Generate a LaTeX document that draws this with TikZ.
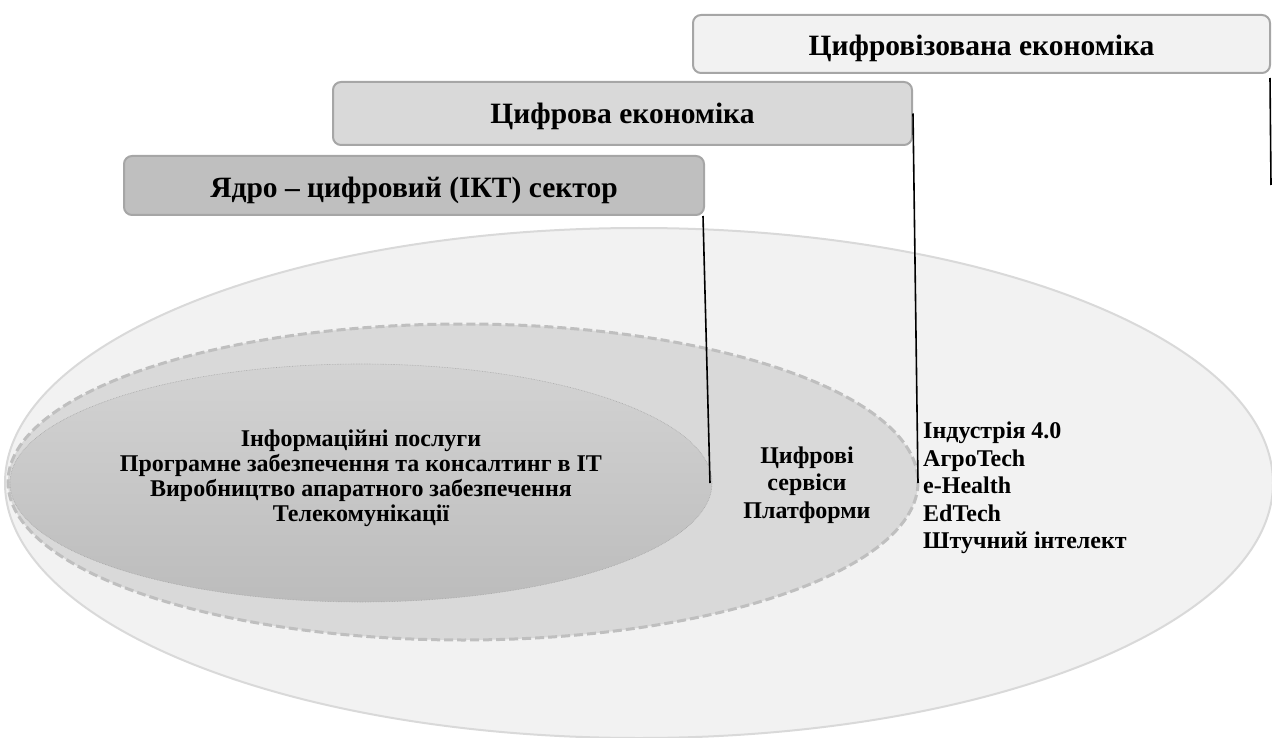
\documentclass[tikz,border=0pt]{standalone}
\usepackage{fontspec}
\setmainfont{Liberation Serif}
\definecolor{outerfill}{HTML}{F2F2F2}
\definecolor{outerline}{HTML}{D9D9D9}
\definecolor{midfill}{HTML}{D9D9D9}
\definecolor{midline}{HTML}{BFBFBF}
\definecolor{innertop}{HTML}{D3D3D3}
\definecolor{innerbot}{HTML}{BCBCBC}
\definecolor{innerline}{HTML}{A6A6A6}
\definecolor{boxline}{HTML}{A6A6A6}
\definecolor{boxa}{HTML}{F2F2F2}
\definecolor{boxb}{HTML}{D9D9D9}
\definecolor{boxc}{HTML}{BFBFBF}
\begin{document}
\begin{tikzpicture}[x=1pt,y=-1pt,
  levelbox/.style={draw=boxline, line width=2pt, rounded corners=8pt, inner sep=0pt,
    text height=19.5pt, text depth=0pt,
    font=\bfseries\fontsize{29.5}{32}\selectfont},
  bodytext/.style={font=\bfseries\fontsize{24}{25}\selectfont, inner sep=0pt},
  listtext/.style={font=\bfseries\fontsize{24}{27.5}\selectfont, inner sep=0pt},
  connector/.style={draw=black, line width=1.6pt}]
\useasboundingbox (0,0) rectangle (1272,738);
% ellipses
\path[fill=outerfill, draw=outerline, line width=2pt] (639,483) ellipse [x radius=634, y radius=255];
\path[fill=midfill, draw=midline, line width=3pt, dash pattern=on 9pt off 4pt] (463,482) ellipse [x radius=455, y radius=158];
\path[top color=innertop, bottom color=innerbot, draw=innerline, line width=0.6pt, densely dotted] (361,483) ellipse [x radius=351, y radius=119];
% boxes
\node[levelbox, fill=boxa, minimum width=577pt, minimum height=58pt] (b1) at (981.5,44) {\raisebox{-2.2pt}{Цифровізована економіка}};
\node[levelbox, fill=boxb, minimum width=579pt, minimum height=63pt] (b2) at (622.5,113.5) {\raisebox{-0.7pt}{Цифрова економіка}};
\node[levelbox, fill=boxc, minimum width=580pt, minimum height=59pt] (b3) at (414,185.5) {\raisebox{-2.7pt}{Ядро – цифровий (ІКТ) сектор}};
% texts
\node[bodytext, align=center] (core) at (361,478) {Інформаційні послуги\\Програмне забезпечення та консалтинг в IT\\Виробництво апаратного забезпечення\\Телекомунікації};
\node[listtext, align=center] (mid) at (807,485) {Цифрові\\сервіси\\Платформи};
\node[listtext, align=left, anchor=west] (outer) at (923,488) {Індустрія 4.0\\АгроTech\\e-Health\\EdTech\\Штучний інтелект};
% connectors
\coordinate (e3) at (710,483);
\coordinate (e2) at (918,483);
\coordinate (e1) at (1271,185);
\draw[connector] ([xshift=-2pt]b3.south east) -- (e3);
\draw[connector] (b2.east) -- (e2);
\draw[connector] ([xshift=-1pt,yshift=-4pt]b1.south east) -- (e1);
\end{tikzpicture}
\end{document}
